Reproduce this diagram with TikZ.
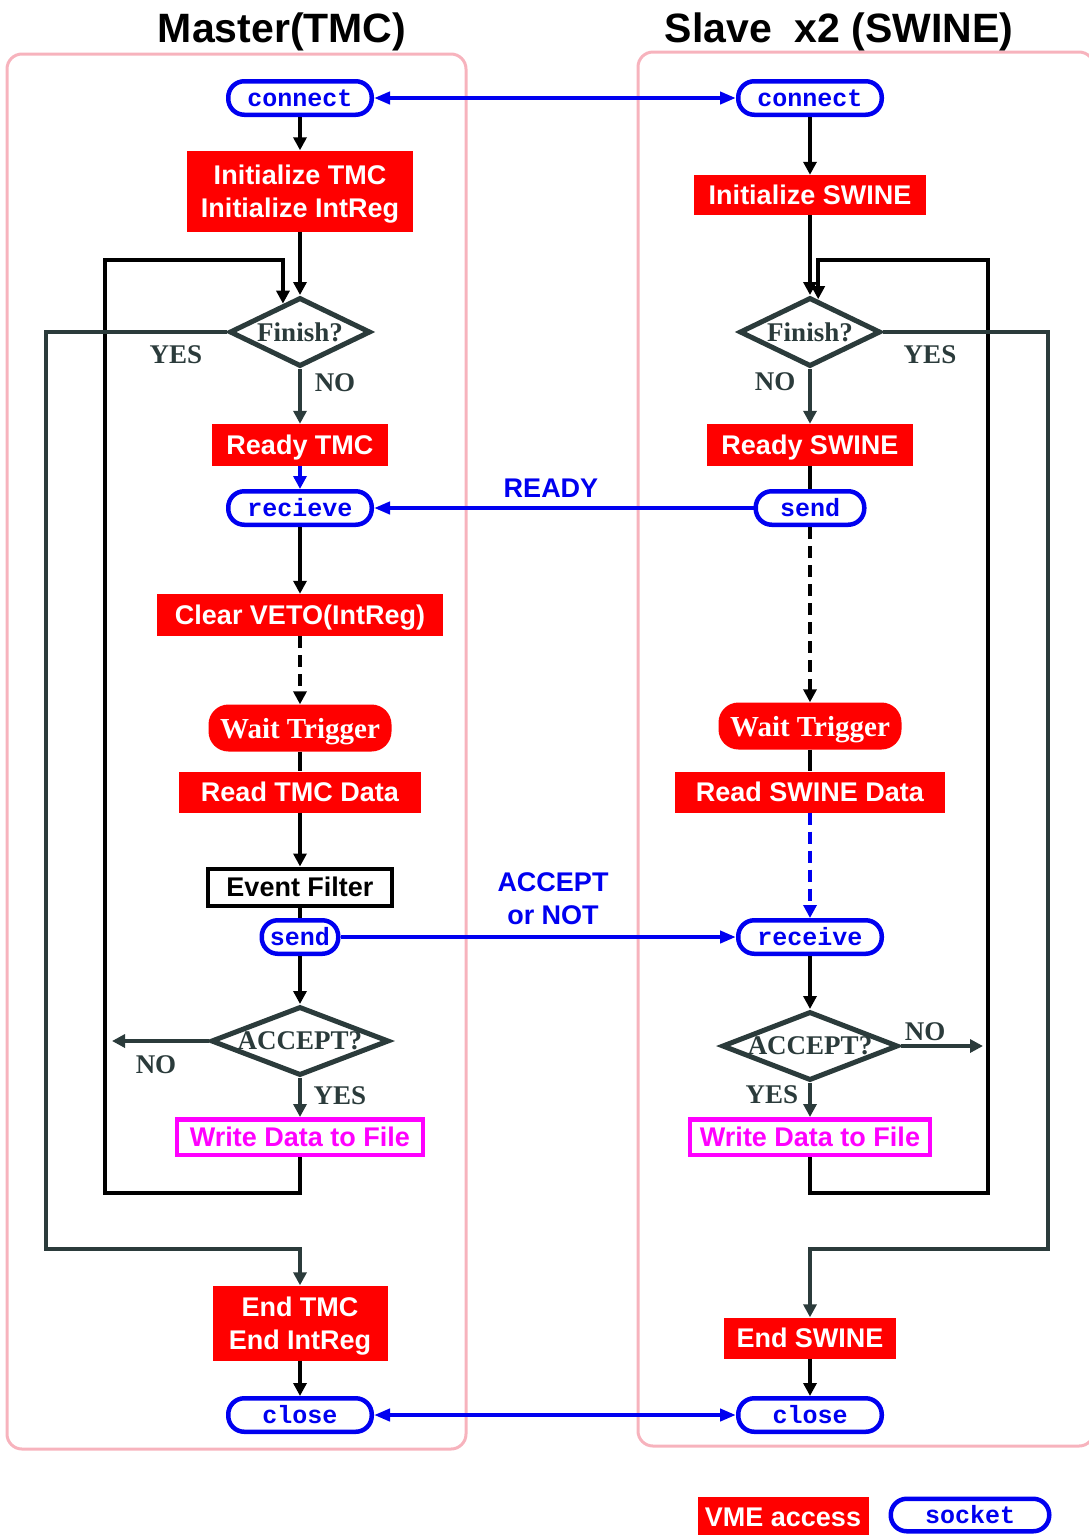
\documentclass[tikz,border=0pt]{standalone}
\usepackage{fontspec}
\setmainfont{Liberation Serif}
\setsansfont{Liberation Sans}
\setmonofont{Liberation Mono}
\usetikzlibrary{arrows.meta,shapes.geometric}
\definecolor{vmered}{HTML}{FF0000}
\definecolor{sockblue}{HTML}{0000F0}
\definecolor{slate}{HTML}{2B3B3B}
\definecolor{lanepink}{HTML}{F7B3BD}
\definecolor{filemag}{HTML}{FF00FF}
\newcommand{\fsz}[2]{\fontsize{#1}{#2}\selectfont}

\begin{document}
\begin{tikzpicture}[x=1pt,y=-1pt,
  vme/.style={fill=vmered,text=white,font=\sffamily\bfseries\fsz{27}{33},inner sep=0pt,align=center,text depth=0pt},
  sock/.style={draw=sockblue,line width=4.5pt,rounded corners=16pt,fill=white,text=sockblue,
    font=\ttfamily\bfseries\fsz{25}{30},inner sep=0pt,minimum height=33.5pt},
  dec/.style={diamond,draw=slate,line width=5pt,text=slate,font=\rmfamily\bfseries\fsz{27}{30},
    inner sep=0pt,fill=white,minimum height=69pt},
  trig/.style={fill=vmered,rounded corners=20pt,text=white,font=\rmfamily\bfseries\fsz{29}{33},
    inner sep=0pt,minimum height=47pt,text depth=0pt},
  filt/.style={draw=black,line width=4pt,font=\sffamily\bfseries\fsz{27}{30},inner sep=0pt,
    minimum height=37pt,text depth=0pt},
  wfile/.style={draw=filemag,line width=4.5pt,text=filemag,font=\sffamily\bfseries\fsz{27}{30},
    inner sep=0pt,minimum height=35.5pt,text depth=0pt},
  lbl/.style={text=slate,font=\rmfamily\bfseries\fsz{27}{30},inner sep=0pt},
  msg/.style={text=sockblue,font=\sffamily\bfseries\fsz{27}{33},inner sep=0pt,align=center},
  title/.style={font=\sffamily\bfseries\fsz{41}{48},anchor=base},
  lane/.style={draw=lanepink,line width=3pt,rounded corners=15pt},
  blk/.style={draw=black,line width=4pt},
  sl/.style={draw=slate,line width=4pt},
  bl/.style={draw=sockblue,line width=4pt},
  dsh/.style={dash pattern=on 12pt off 7pt},
  arrowed/.style={-{Triangle[length=13pt,width=13pt]}},
  barrowed/.style={-{Triangle[length=16pt,width=12pt]}},
  both/.style={{Triangle[length=16pt,width=12pt]}-{Triangle[length=16pt,width=12pt]}}
]
\useasboundingbox (0,0) rectangle (1088,1535);

% swim lanes and titles
\draw[lane] (7,54) rectangle (466,1449);
\draw[lane] (638,52) rectangle (1094,1446);
\node[title] (tm) at (282,42) {Master(TMC)};
\node[title] (ts) at (839,42) {Slave\ \ x2 (SWINE)};

% master column
\node[sock,minimum width=143.5pt] (cl) at (300,98) {connect};
\node[vme,minimum width=226pt,minimum height=81pt] (initl) at (300,191) {Initialize TMC\\Initialize IntReg};
\node[dec,minimum width=141pt,shape aspect=2] (fin1) at (300,332) {Finish?};
\node[vme,minimum width=176pt,minimum height=42pt] (readyl) at (300,445) {Ready TMC};
\node[sock,minimum width=143.5pt] (recl) at (300,508) {recieve};
\node[vme,minimum width=286pt,minimum height=42pt] (clr) at (300,615) {Clear VETO(IntReg)};
\node[trig,minimum width=183pt] (waitl) at (300,728) {Wait Trigger};
\node[vme,minimum width=242pt,minimum height=41pt] (readl) at (300,792) {Read TMC Data};
\node[filt,minimum width=184pt] (evf) at (300,887) {Event Filter};
\node[sock,minimum width=76.5pt] (sendl) at (300,937) {send};
\node[dec,minimum width=178pt,shape aspect=2.5] (acl) at (300,1041) {ACCEPT?};
\node[wfile,minimum width=246pt] (wdl) at (300,1137) {Write Data to File};
\node[vme,minimum width=175pt,minimum height=75pt] (endl) at (300,1323) {End TMC\\End IntReg};
\node[sock,minimum width=143.5pt] (closel) at (300,1415) {close};

% slave column
\node[sock,minimum width=143.5pt] (cr) at (810,98) {connect};
\node[vme,minimum width=232pt,minimum height=40pt] (initr) at (810,195) {Initialize SWINE};
\node[dec,minimum width=141pt,shape aspect=2] (fin2) at (810,332) {Finish?};
\node[vme,minimum width=206pt,minimum height=42pt] (readyr) at (810,445) {Ready SWINE};
\node[sock,minimum width=108.5pt] (sendr) at (810,508) {send};
\node[trig,minimum width=183pt] (waitr) at (810,726) {Wait Trigger};
\node[vme,minimum width=270pt,minimum height=41pt] (readr) at (810,792) {Read SWINE Data};
\node[sock,minimum width=143.5pt] (recr) at (810,937) {receive};
\node[dec,minimum width=176pt,shape aspect=2.5] (acr) at (810,1046) {ACCEPT?};
\node[wfile,minimum width=240pt] (wdr) at (810,1137) {Write Data to File};
\node[vme,minimum width=172pt,minimum height=41pt] (endr) at (810,1338) {End SWINE};
\node[sock,minimum width=143.5pt] (closer) at (810,1415) {close};

% branch labels
\node[lbl] (y1) at (176,355) {YES};
\node[lbl] (n1) at (335,383) {NO};
\node[lbl] (y2) at (930,355) {YES};
\node[lbl] (n2) at (775,382) {NO};
\node[lbl] (n3) at (156,1065) {NO};
\node[lbl] (y3) at (340,1096) {YES};
\node[lbl] (n4) at (925,1032) {NO};
\node[lbl] (y4) at (772,1095) {YES};
\node[msg] (mready) at (551,488) {READY};
\node[msg] (macc) at (553,899) {ACCEPT\\or NOT};

\coordinate (nol) at (112,1041);
\coordinate (nor) at (983,1046);

% master flow
\draw[blk,arrowed] (cl.south) -- (initl.north);
\draw[blk,arrowed] (initl.south) -- (fin1.north);
\draw[sl,arrowed] (fin1.south) -- (readyl.north);
\draw[bl,arrowed,dsh] (readyl.south) -- (recl.north);
\draw[blk,arrowed] (recl.south) -- (clr.north);
\draw[blk,arrowed,dsh] (clr.south) -- (waitl.north);
\draw[blk] (waitl.south) -- (readl.north);
\draw[blk,arrowed] (readl.south) -- (evf.north);
\draw[blk] (evf.south) -- (sendl.north);
\draw[blk,arrowed] (sendl.south) -- (acl.north);
\draw[sl,arrowed] (acl.south) -- (wdl.north);
\draw[sl,arrowed] (acl.west) -- (nol);
\draw[blk,arrowed] (wdl.south) -- ++(0,36) -| (105,260) -| (fin1.121);
\draw[sl,arrowed] (fin1.west) -| (46,1249) -| (endl.north);
\draw[blk,arrowed] (endl.south) -- (closel.north);

% slave flow
\draw[blk,arrowed] (cr.south) -- (initr.north);
\draw[blk,arrowed] (initr.south) -- (fin2.north);
\draw[sl,arrowed] (fin2.south) -- (readyr.north);
\draw[blk] (readyr.south) -- (sendr.north);
\draw[blk,arrowed,dsh] (sendr.south) -- (waitr.north);
\draw[blk] (waitr.south) -- (readr.north);
\draw[bl,arrowed,dsh] (readr.south) -- (recr.north);
\draw[blk,arrowed] (recr.south) -- (acr.north);
\draw[sl,arrowed] (acr.south) -- (wdr.north);
\draw[sl,arrowed] (acr.east) -- (nor);
\draw[blk,arrowed] (wdr.south) -- ++(0,36) -| (988,260) -| (fin2.76);
\draw[sl,arrowed] (fin2.east) -| (1048,1249) -| (endr.north);
\draw[blk,arrowed] (endr.south) -- (closer.north);

% socket messages
\draw[bl,both] (cl.east) -- (cr.west);
\draw[bl,barrowed] (sendr.west) -- (recl.east);
\draw[bl,barrowed] (sendl.east) -- (recr.west);
\draw[bl,both] (closel.east) -- (closer.west);

% legend
\node[vme,minimum width=171pt,minimum height=40pt] (legv) at (783,1517) {VME access};
\node[sock,minimum width=158.5pt,minimum height=32.5pt] (legs) at (970,1515) {socket};
\end{tikzpicture}
\end{document}
